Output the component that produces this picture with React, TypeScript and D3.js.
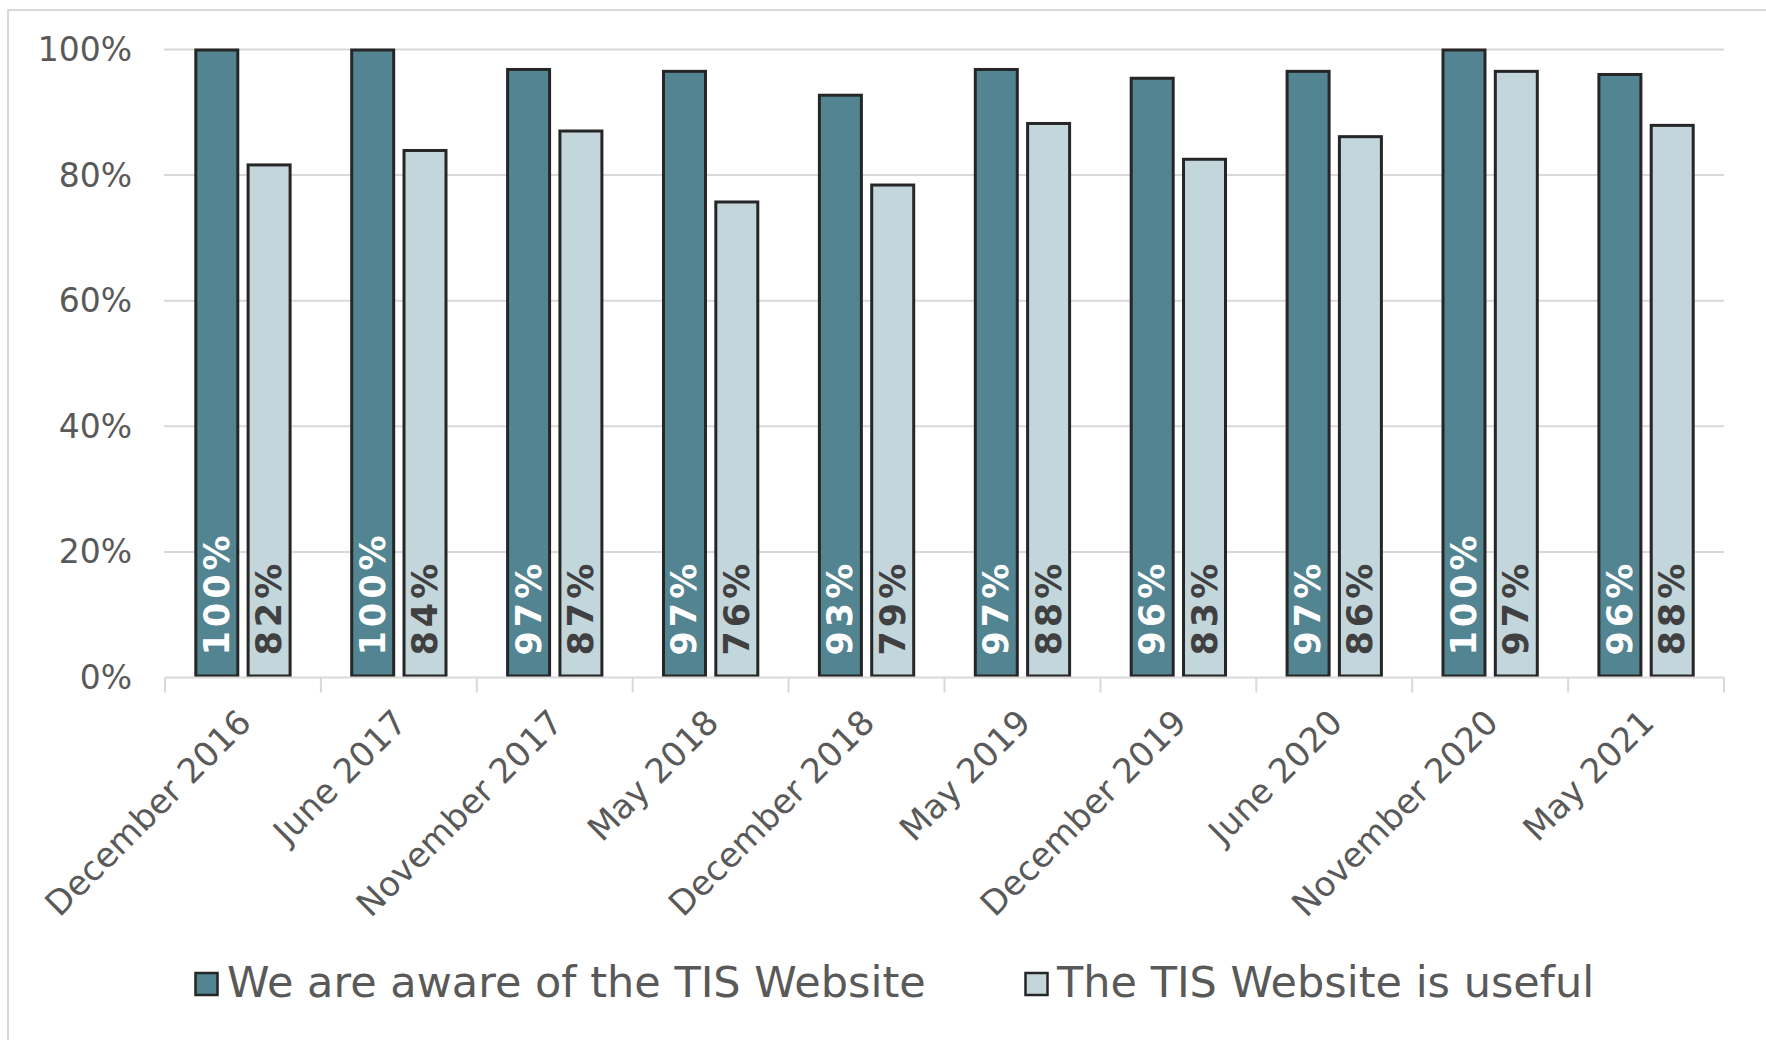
import * as d3 from 'd3';
import React, { useEffect, useRef } from 'react';

const categories = [
  'December 2016',
  'June 2017',
  'November 2017',
  'May 2018',
  'December 2018',
  'May 2019',
  'December 2019',
  'June 2020',
  'November 2020',
  'May 2021',
];

const seriesNames = ['We are aware of the TIS Website', 'The TIS Website is useful'];

// bar heights (labels show rounded values)
const awareValues = [100, 100, 96.9, 96.6, 92.8, 96.9, 95.5, 96.6, 100, 96.1];
const usefulValues = [81.7, 84.0, 87.1, 75.8, 78.5, 88.3, 82.6, 86.2, 96.6, 88.0];

const yTicks = [0, 20, 40, 60, 80, 100];

const fills = ['#528491', '#c2d6dc'];
const labelColors = ['#ffffff', '#404040'];

const W = 1766;
const H = 1040;

const App: React.FC = () => {
  const ref = useRef<SVGSVGElement | null>(null);

  useEffect(() => {
    if (!ref.current) return;
    const svg = d3.select(ref.current);
    svg.selectAll('*').remove();

    const margin = { top: 49.5, right: 42, bottom: 362.5, left: 165 };
    const plotRight = W - margin.right;
    const plotBottom = H - margin.bottom;

    // chart area border
    svg
      .append('rect')
      .attr('x', 8)
      .attr('y', 10)
      .attr('width', W)
      .attr('height', H)
      .attr('fill', '#fff')
      .attr('stroke', '#d9d9d9')
      .attr('stroke-width', 2);

    const x0 = d3.scaleBand().domain(categories).range([margin.left, plotRight]).padding(0);
    const x1 = d3
      .scaleBand()
      .domain(seriesNames)
      .range([0, x0.bandwidth()])
      .paddingInner(0.14)
      .paddingOuter(0.56);
    const y = d3.scaleLinear().domain([0, 100]).range([plotBottom, margin.top]);

    const font = '"DejaVu Sans", Verdana, sans-serif';

    // gridlines
    svg
      .append('g')
      .selectAll('line')
      .data(yTicks.filter((t) => t > 0))
      .enter()
      .append('line')
      .attr('x1', margin.left - 1)
      .attr('x2', plotRight)
      .attr('y1', (d) => y(d))
      .attr('y2', (d) => y(d))
      .attr('stroke', '#d9d9d9')
      .attr('stroke-width', 2);

    // y labels
    svg
      .append('g')
      .selectAll('text')
      .data(yTicks)
      .enter()
      .append('text')
      .attr('x', 132)
      .attr('y', (d) => y(d))
      .attr('text-anchor', 'end')
      .attr('dominant-baseline', 'central')
      .style('font-family', font)
      .style('font-size', '33px')
      .style('fill', '#595959')
      .text((d) => `${d}%`);

    const rows = categories.map((c, i) => ({ category: c, values: [awareValues[i], usefulValues[i]] }));

    // bars
    const groups = svg
      .append('g')
      .selectAll('g')
      .data(rows)
      .enter()
      .append('g')
      .attr('transform', (d) => `translate(${x0(d.category)},0)`);

    const sw = 3;
    groups
      .selectAll('rect')
      .data((d) => d.values.map((v, s) => ({ v, s })))
      .enter()
      .append('rect')
      .attr('x', (d) => (x1(seriesNames[d.s]) ?? 0) + sw / 2)
      .attr('y', (d) => y(d.v) + 0.5)
      .attr('width', x1.bandwidth() - sw)
      .attr('height', (d) => y(0) - y(d.v) - 2)
      .attr('fill', (d) => fills[d.s])
      .attr('stroke', '#262626')
      .attr('stroke-width', sw);

    // data labels, rotated inside bars
    groups
      .selectAll('text')
      .data((d) => d.values.map((v, s) => ({ v, s })))
      .enter()
      .append('text')
      .attr('transform', (d) => {
        const cx = (x1(seriesNames[d.s]) ?? 0) + x1.bandwidth() / 2;
        return `translate(${cx},${y(0) - 22}) rotate(-90)`;
      })
      .attr('text-anchor', 'start')
      .attr('dominant-baseline', 'central')
      .style('font-family', font)
      .style('font-size', '35px')
      .style('font-weight', 'bold')
      .style('letter-spacing', '4px')
      .style('fill', (d) => labelColors[d.s])
      .text((d) => `${Math.round(d.v)}%`);

    // x axis line and ticks
    const axis = svg.append('g');
    axis
      .append('line')
      .attr('x1', margin.left)
      .attr('x2', plotRight)
      .attr('y1', y(0))
      .attr('y2', y(0))
      .attr('stroke', '#d9d9d9')
      .attr('stroke-width', 2);
    const tickXs = categories.map((c) => x0(c) ?? 0).concat([plotRight]);
    axis
      .selectAll('line.tick')
      .data(tickXs)
      .enter()
      .append('line')
      .attr('class', 'tick')
      .attr('x1', (d) => d)
      .attr('x2', (d) => d)
      .attr('y1', y(0))
      .attr('y2', y(0) + 15)
      .attr('stroke', '#d9d9d9')
      .attr('stroke-width', 2);

    axis
      .selectAll('text')
      .data(categories)
      .enter()
      .append('text')
      .attr('transform', (d) => {
        const cx = (x0(d) ?? 0) + x0.bandwidth() / 2;
        return `translate(${cx + 10},${y(0) + 47}) rotate(-45)`;
      })
      .attr('text-anchor', 'end')
      .style('font-family', font)
      .style('font-size', '34px')
      .style('fill', '#595959')
      .text((d) => d);

    // legend
    const legendItems = [
      { name: seriesNames[0], x: 194 },
      { name: seriesNames[1], x: 1024 },
    ];
    const legend = svg.append('g');
    legendItems.forEach((item, i) => {
      legend
        .append('rect')
        .attr('x', item.x + 1.5)
        .attr('y', 973)
        .attr('width', 22)
        .attr('height', 22)
        .attr('fill', fills[i])
        .attr('stroke', '#262626')
        .attr('stroke-width', 2.5);
      legend
        .append('text')
        .attr('x', item.x + 33)
        .attr('y', 997)
        .style('font-family', font)
        .style('font-size', '43px')
        .style('fill', '#595959')
        .text(item.name);
    });
  }, []);

  return (
    <svg
      ref={ref}
      width={W}
      height={H}
      style={{ position: 'absolute', left: 0, top: 0, display: 'block' }}
    ></svg>
  );
};

export default App;
